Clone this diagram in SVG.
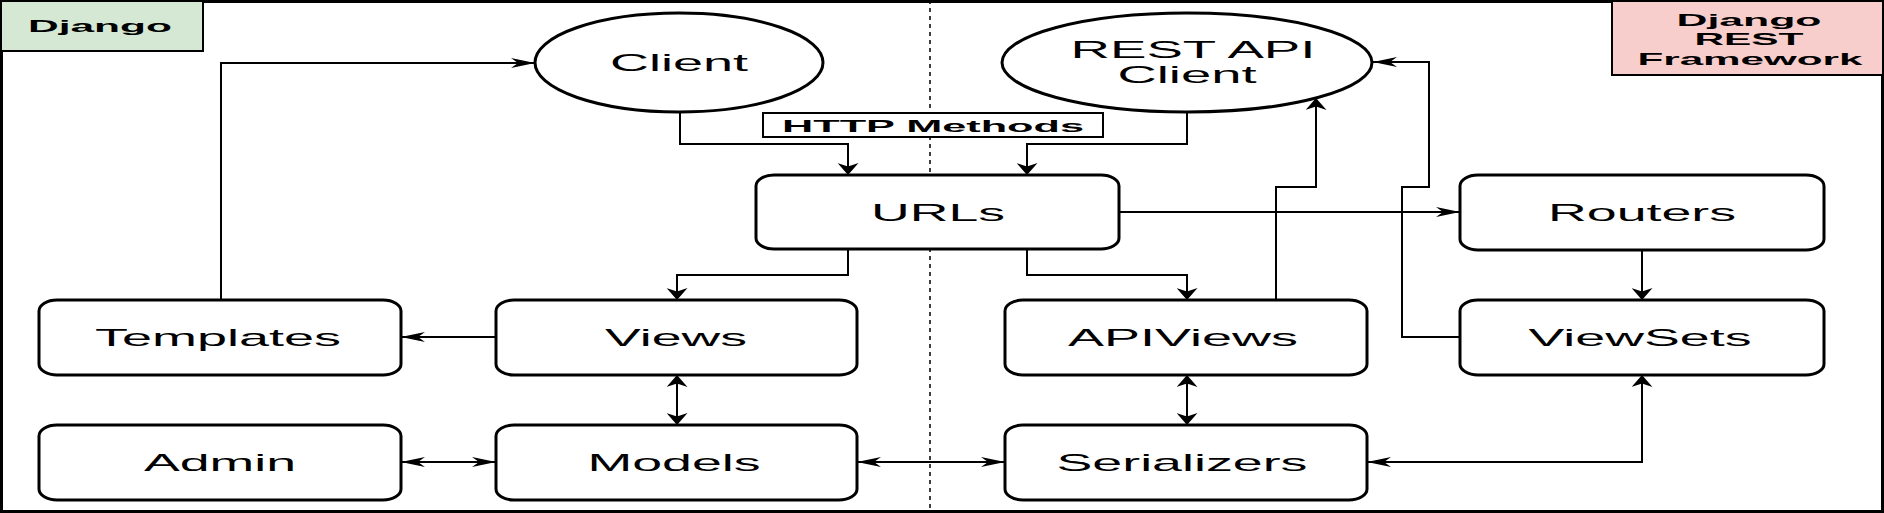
<svg xmlns="http://www.w3.org/2000/svg" width="1884" height="513" viewBox="0 0 1884 513">
<style>
.node{fill:#fff;stroke:#000;stroke-width:3}
.t{font-family:"Liberation Sans",Arial,sans-serif;font-size:24px;fill:#000;text-anchor:middle}
.b{font-family:"Liberation Sans",Arial,sans-serif;font-size:16.5px;font-weight:bold;fill:#000;text-anchor:middle}
.c{fill:none;stroke:#000;stroke-width:2}
</style>
<defs>
<marker id="mh" markerUnits="userSpaceOnUse" markerWidth="24" markerHeight="10" refX="24" refY="5" orient="auto-start-reverse"><path d="M0,0 L24,5 L0,10 L7,5 Z" fill="#000"/></marker>
<marker id="mv" markerUnits="userSpaceOnUse" markerWidth="12" markerHeight="21" refX="12" refY="10.5" orient="auto-start-reverse"><path d="M0,0 L12,10.5 L0,21 L3.5,10.5 Z" fill="#000"/></marker>
</defs>
<rect x="0" y="0" width="1884" height="513" fill="#fff"/>
<rect x="1.5" y="1.5" width="1881" height="510" fill="none" stroke="#000" stroke-width="3"/>
<line x1="930" y1="0" x2="930" y2="513" stroke="#000" stroke-width="1.5" stroke-dasharray="4 4"/>
<g id="label-django"><rect x="1" y="1" width="202" height="50" fill="#d5e8d4" stroke="#000" stroke-width="2"/><text class="b" x="100" y="32" textLength="144" lengthAdjust="spacingAndGlyphs">Django</text></g>
<g id="label-drf"><rect x="1612" y="1" width="271" height="74" fill="#f8cecc" stroke="#000" stroke-width="2"/><text class="b" x="1749" y="26" textLength="145" lengthAdjust="spacingAndGlyphs">Django</text><text class="b" x="1749" y="45" textLength="109" lengthAdjust="spacingAndGlyphs">REST</text><text class="b" x="1750" y="65" textLength="225" lengthAdjust="spacingAndGlyphs">Framework</text></g>
<g id="connectors">
<path class="c" d="M221,300 V63 H535" marker-end="url(#mh)"/>
<path class="c" d="M680,112 V144 H848 V175" marker-end="url(#mv)"/>
<path class="c" d="M1187,112 V144 H1027 V175" marker-end="url(#mv)"/>
<path class="c" d="M848,249 V275 H677 V300" marker-end="url(#mv)"/>
<path class="c" d="M1027,249 V275 H1187 V300" marker-end="url(#mv)"/>
<path class="c" d="M1119,212 H1460" marker-end="url(#mh)"/>
<path class="c" d="M496,337 H401" marker-end="url(#mh)"/>
<path class="c" d="M677,375 V425" marker-start="url(#mv)" marker-end="url(#mv)"/>
<path class="c" d="M401,462 H496" marker-start="url(#mh)" marker-end="url(#mh)"/>
<path class="c" d="M857,462 H1005" marker-start="url(#mh)" marker-end="url(#mh)"/>
<path class="c" d="M1187,375 V425" marker-start="url(#mv)" marker-end="url(#mv)"/>
<path class="c" d="M1367,462 H1642 V375" marker-start="url(#mh)" marker-end="url(#mv)"/>
<path class="c" d="M1276,300 V187 H1316 V98" marker-end="url(#mv)"/>
<path class="c" d="M1460,337 H1402 V187 H1429 V62 H1373" marker-end="url(#mh)"/>
<path class="c" d="M1642,250 V300" marker-end="url(#mv)"/>
</g>
<g id="http-methods"><rect x="763" y="113" width="340" height="24" fill="#fff" stroke="#000" stroke-width="2"/><text class="b" x="933" y="132" textLength="302" lengthAdjust="spacingAndGlyphs">HTTP Methods</text></g>
<g id="client"><ellipse class="node" cx="679" cy="62.5" rx="144" ry="49.5"/><text class="t" x="679" y="71" textLength="138" lengthAdjust="spacingAndGlyphs">Client</text></g>
<g id="rest-api-client"><ellipse class="node" cx="1187" cy="62.5" rx="185" ry="49.5"/><text class="t" x="1193" y="58" textLength="245" lengthAdjust="spacingAndGlyphs">REST API</text><text class="t" x="1187" y="83" textLength="139" lengthAdjust="spacingAndGlyphs">Client</text></g>
<g id="urls"><rect class="node" x="756" y="175" width="363" height="74" rx="18" ry="11"/><text class="t" x="938" y="221" textLength="134" lengthAdjust="spacingAndGlyphs">URLs</text></g>
<g id="routers"><rect class="node" x="1460" y="175" width="364" height="75" rx="18" ry="11"/><text class="t" x="1642" y="221" textLength="188" lengthAdjust="spacingAndGlyphs">Routers</text></g>
<g id="templates"><rect class="node" x="39" y="300" width="362" height="75" rx="18" ry="11"/><text class="t" x="218" y="346" textLength="246" lengthAdjust="spacingAndGlyphs">Templates</text></g>
<g id="views"><rect class="node" x="496" y="300" width="361" height="75" rx="18" ry="11"/><text class="t" x="676" y="346" textLength="142" lengthAdjust="spacingAndGlyphs">Views</text></g>
<g id="apiviews"><rect class="node" x="1005" y="300" width="362" height="75" rx="18" ry="11"/><text class="t" x="1183" y="346" textLength="230" lengthAdjust="spacingAndGlyphs">APIViews</text></g>
<g id="viewsets"><rect class="node" x="1460" y="300" width="364" height="75" rx="18" ry="11"/><text class="t" x="1640" y="346" textLength="223" lengthAdjust="spacingAndGlyphs">ViewSets</text></g>
<g id="admin"><rect class="node" x="39" y="425" width="362" height="75" rx="18" ry="11"/><text class="t" x="220" y="471" textLength="152" lengthAdjust="spacingAndGlyphs">Admin</text></g>
<g id="models"><rect class="node" x="496" y="425" width="361" height="75" rx="18" ry="11"/><text class="t" x="674" y="471" textLength="173" lengthAdjust="spacingAndGlyphs">Models</text></g>
<g id="serializers"><rect class="node" x="1005" y="425" width="362" height="75" rx="18" ry="11"/><text class="t" x="1182" y="471" textLength="251" lengthAdjust="spacingAndGlyphs">Serializers</text></g>
</svg>
